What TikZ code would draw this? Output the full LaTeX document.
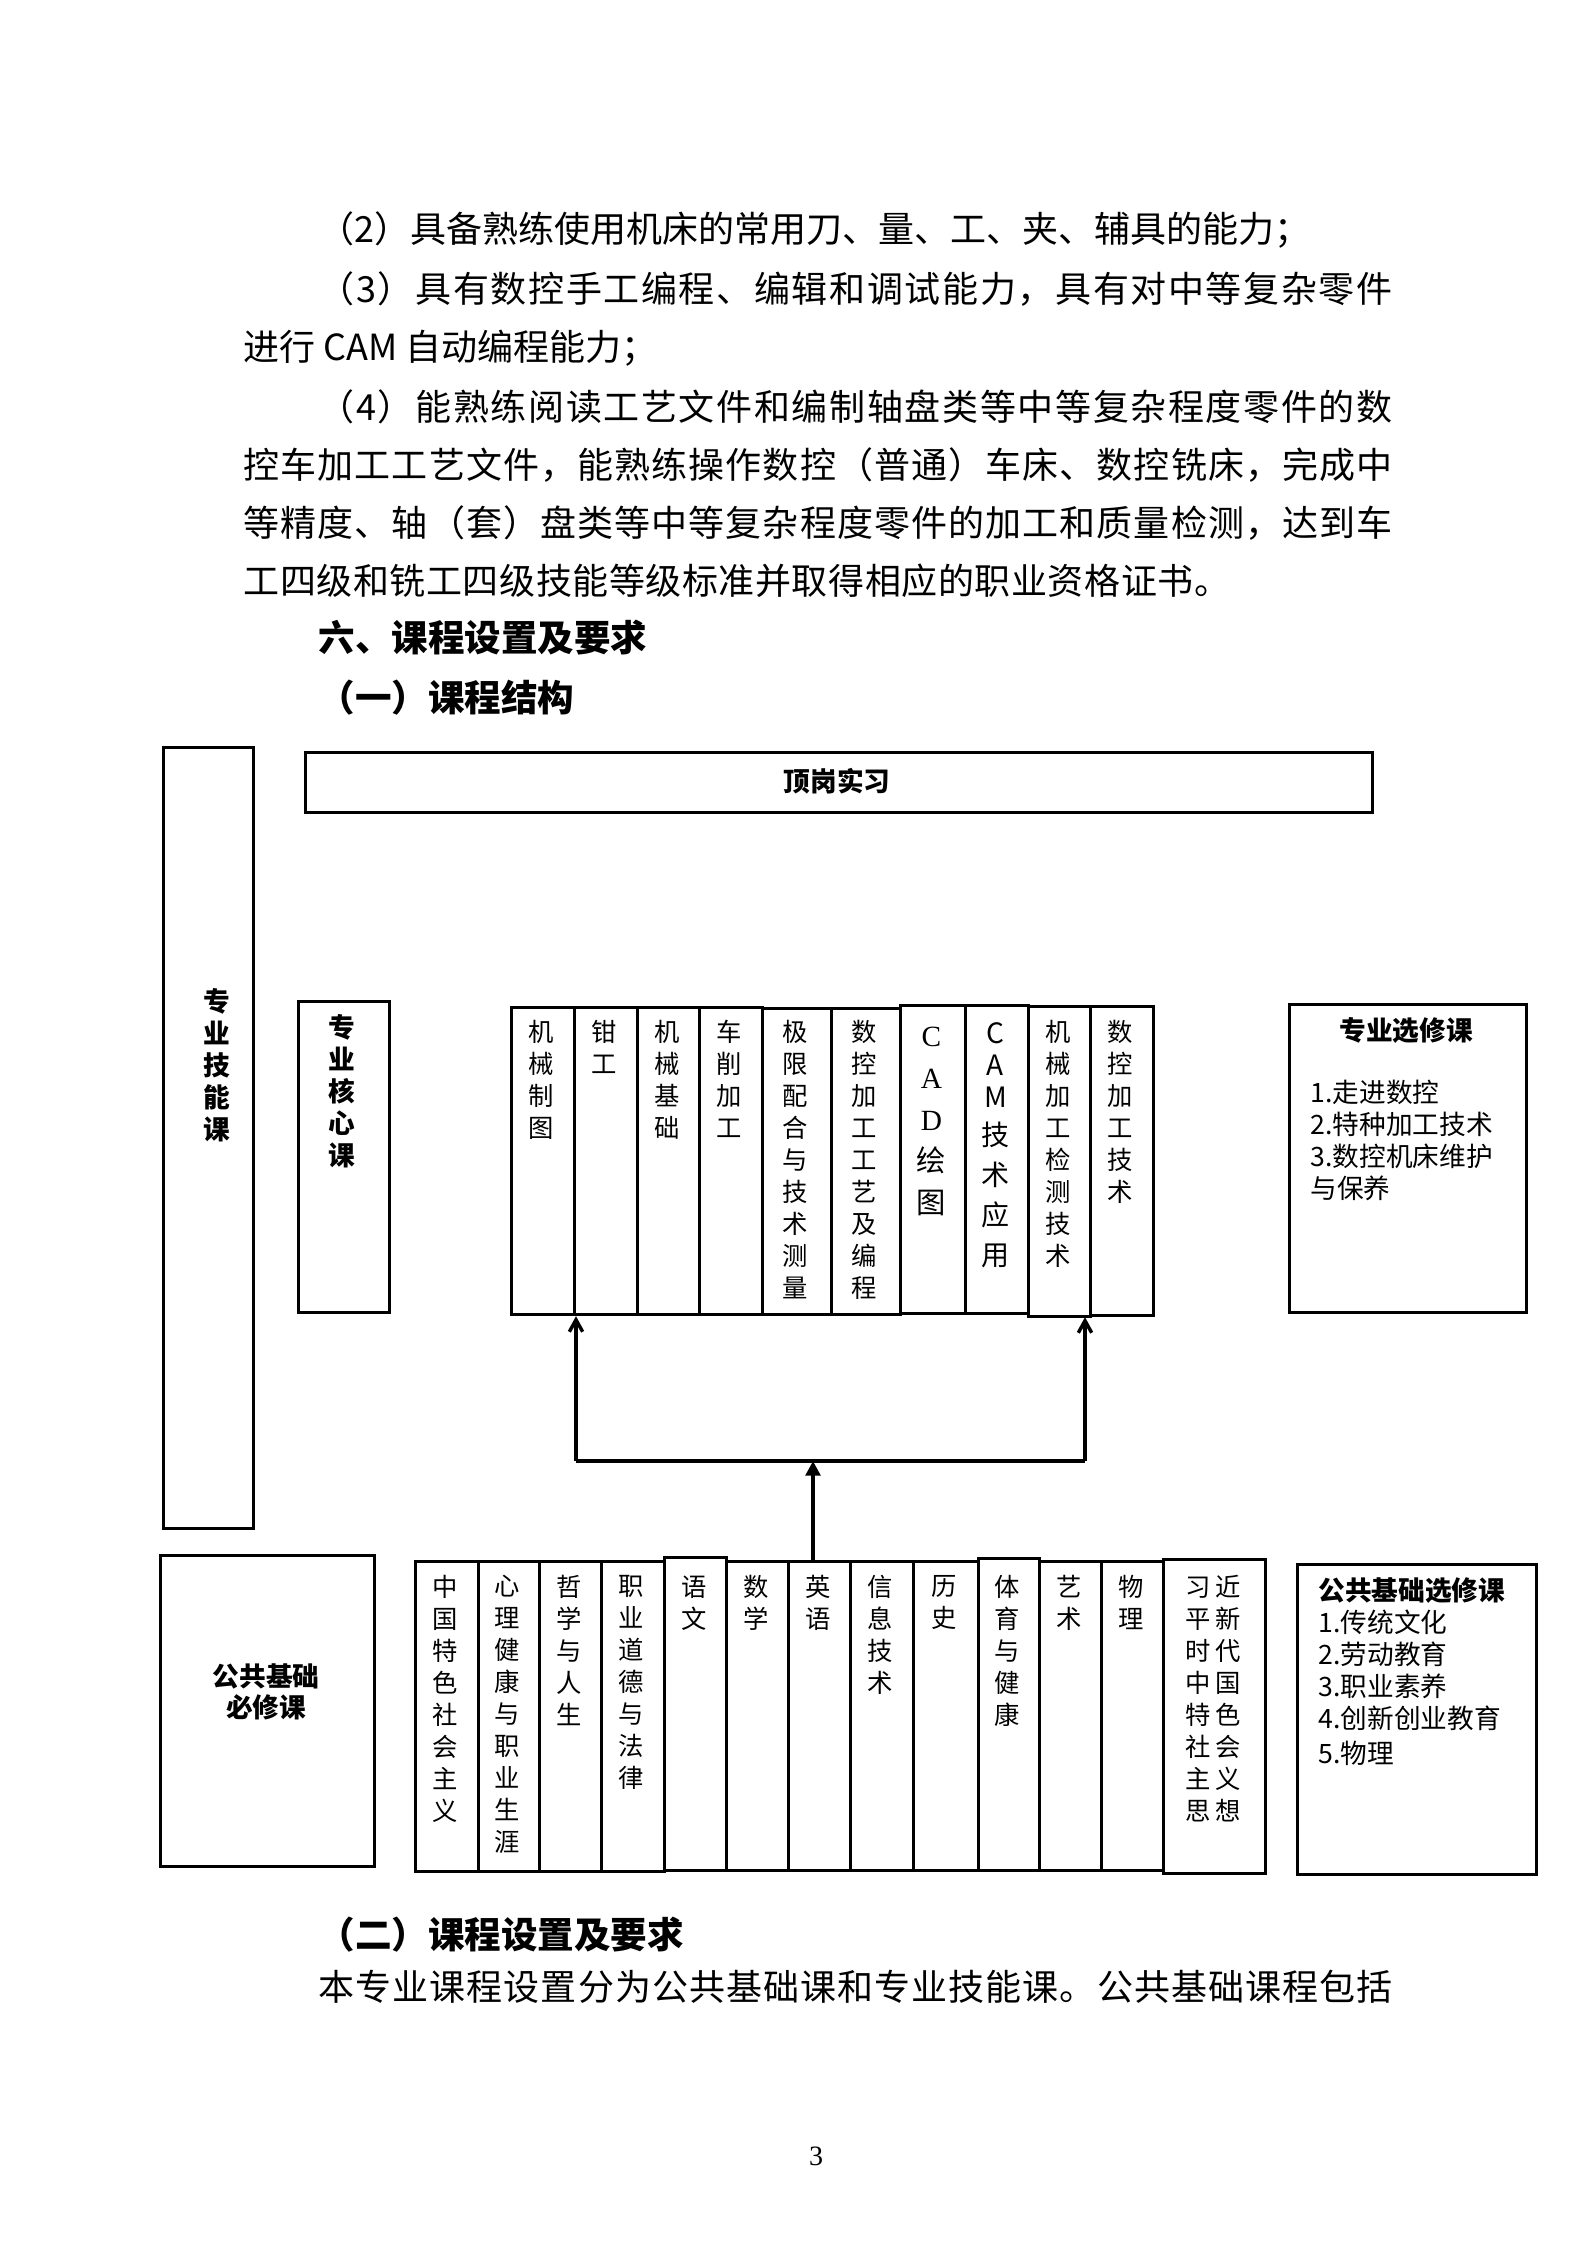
\documentclass[tikz,border=0pt]{standalone}
\usepackage{fontspec}
\setmainfont{Noto Sans CJK SC}
\newfontfamily\serifl{Liberation Serif}
\usetikzlibrary{arrows.meta}
\ExplSyntaxOn
\NewDocumentCommand\jline{mm}{\makebox[#1][s]{\tl_map_inline:nn{#2}{##1\hfil}\unskip}}
\ExplSyntaxOff
\newcommand\drawbox[6][]{\node[boxs,#1,anchor=north west,minimum width={(#4-#2)*0.375},minimum height={(#5-#3)*0.375}] (#6) at (#2,#3) {};}
\begin{document}
\begin{tikzpicture}[x=0.375pt,y=-0.375pt,
  boxs/.style={draw, line width=1.2pt, inner sep=0pt},
  body/.style={inner sep=0pt, anchor=west, font=\fontsize{13.5}{16}\selectfont},
  head/.style={inner sep=0pt, anchor=west, font=\fontsize{13.7}{16}\selectfont\bfseries},
  ct/.style={inner sep=0pt, anchor=north, align=center, font=\fontsize{9.5}{12}\selectfont},
  lbl/.style={inner sep=0pt, align=center, font=\fontsize{10}{12}\selectfont\bfseries},
  lst/.style={inner sep=0pt, anchor=north west, align=left, font=\fontsize{10}{12}\selectfont},
  conn/.style={line width=1.3pt},
]
\useasboundingbox (0,0) rectangle (1587,2245);
\fill[white] (0,0) rectangle (1587,2245);

% ---- body text ----
\node[body] (l1) at (318,230) {（2）具备熟练使用机床的常用刀、量、工、夹、辅具的能力；};
\node[body] (l2) at (318,289) {\jline{402.75pt}{（3）具有数控手工编程、编辑和调试能力，具有对中等复杂零件}};
\node[body] (l3) at (243,348) {进行 CAM 自动编程能力；};
\node[body] (l4) at (318,407) {\jline{402.75pt}{（4）能熟练阅读工艺文件和编制轴盘类等中等复杂程度零件的数}};
\node[body] (l5) at (243,465) {\jline{430.875pt}{控车加工工艺文件，能熟练操作数控（普通）车床、数控铣床，完成中}};
\node[body] (l6) at (243,523) {\jline{430.875pt}{等精度、轴（套）盘类等中等复杂程度零件的加工和质量检测，达到车}};
\node[body] (l7) at (243,581) {\jline{370pt}{工四级和铣工四级技能等级标准并取得相应的职业资格证书。}};
\node[head] (h1) at (318,638) {六、课程设置及要求};
\node[head] (h2) at (318,698) {（一）课程结构};
\node[head] (h3) at (318,1935) {（二）课程设置及要求};
\node[body] (l8) at (318,1987) {\jline{402.75pt}{本专业课程设置分为公共基础课和专业技能课。公共基础课程包括}};
\node[inner sep=0pt, font=\serifl\fontsize{10.5}{12}\selectfont] (pg) at (816,2156) {3};

% ---- left frames ----
\drawbox{162}{746}{252}{1527}{skill}
\node[lbl] (skillt) at (217,1065) {专\\业\\技\\能\\课};
\drawbox{304}{751}{1371}{811}{intern}
\node[lbl] (internt) at (837,781) {顶岗实习};
\drawbox{297}{1000}{388}{1311}{core}
\node[lbl] (coret) at (342,1091) {专\\业\\核\\心\\课};

% ---- core course columns ----
\drawbox{510}{1006}{573}{1313}{c1}
\drawbox{573}{1006}{636}{1313}{c2}
\drawbox{636}{1006}{698}{1313}{c3}
\drawbox{698}{1006}{761}{1313}{c4}
\drawbox{761}{1007}{830}{1313}{c5}
\drawbox{830}{1007}{899}{1313}{c6}
\drawbox{899}{1004}{964}{1312}{c7}
\drawbox{964}{1004}{1027}{1312}{c8}
\drawbox{1027}{1005}{1089}{1315}{c9}
\drawbox{1089}{1005}{1152}{1314}{c10}
\node[ct] (tc1) at (541.5,1020) {机\\械\\制\\图};
\node[ct] (tc2) at (604.5,1020) {钳\\工};
\node[ct] (tc3) at (667,1020) {机\\械\\基\\础};
\node[ct] (tc4) at (729.5,1020) {车\\削\\加\\工};
\node[ct] (tc5) at (795.5,1020) {极\\限\\配\\合\\与\\技\\术\\测\\量};
\node[ct] (tc6) at (864.5,1020) {数\\控\\加\\工\\工\\艺\\及\\编\\程};
\node[ct, font=\fontsize{11}{15.6}\selectfont] (tc7) at (931.5,1027) {{\serifl C}\\{\serifl A}\\{\serifl D}\\绘\\图};
\node[ct, font=\fontsize{10.5}{15}\selectfont] (tc8) at (995.5,1022) {C\\[-3pt]A\\[-3pt]M\\[-0.6pt]技\\术\\应\\用};
\node[ct] (tc9) at (1058,1020) {机\\械\\加\\工\\检\\测\\技\\术};
\node[ct] (tc10) at (1120.5,1020) {数\\控\\加\\工\\技\\术};

% ---- professional electives ----
\drawbox{1288}{1003}{1525}{1311}{pel}
\node[lbl] (pelt) at (1406,1030) {专业选修课};
\node[lst] (pell) at (1310,1080) {1.走进数控\\2.特种加工技术\\3.数控机床维护\\与保养};

% ---- public basic compulsory ----
\drawbox{159}{1554}{373}{1865}{pub}
\node[lbl, font=\fontsize{10}{11.6}\selectfont\bfseries] (pubt) at (266,1692) {公共基础\\必修课};

\drawbox{414}{1560}{477}{1870}{b1}
\drawbox{477}{1560}{538}{1870}{b2}
\drawbox{538}{1560}{600}{1870}{b3}
\drawbox{600}{1560}{663}{1870}{b4}
\drawbox{663}{1556}{725}{1869}{b5}
\drawbox{725}{1560}{787}{1869}{b6}
\drawbox{787}{1560}{849}{1869}{b7}
\drawbox{849}{1560}{912}{1869}{b8}
\drawbox{912}{1560}{977}{1869}{b9}
\drawbox{977}{1557}{1038}{1869}{b10}
\drawbox{1038}{1560}{1100}{1869}{b11}
\drawbox{1100}{1560}{1162}{1869}{b12}
\drawbox{1162}{1558}{1264}{1872}{b13}
\node[ct] (tb1) at (445.5,1575) {中\\国\\特\\色\\社\\会\\主\\义};
\node[ct] (tb2) at (507.5,1575) {心\\理\\健\\康\\与\\职\\业\\生\\涯};
\node[ct] (tb3) at (569,1575) {哲\\学\\与\\人\\生};
\node[ct] (tb4) at (631.5,1575) {职\\业\\道\\德\\与\\法\\律};
\node[ct] (tb5) at (694,1575) {语\\文};
\node[ct] (tb6) at (756,1575) {数\\学};
\node[ct] (tb7) at (818,1575) {英\\语};
\node[ct] (tb8) at (880.5,1575) {信\\息\\技\\术};
\node[ct] (tb9) at (944.5,1575) {历\\史};
\node[ct] (tb10) at (1007.5,1575) {体\\育\\与\\健\\康};
\node[ct] (tb11) at (1069,1575) {艺\\术};
\node[ct] (tb12) at (1131,1575) {物\\理};
\node[ct] (tb13) at (1213,1575) {习\hspace{1.8pt}近\\平\hspace{1.8pt}新\\时\hspace{1.8pt}代\\中\hspace{1.8pt}国\\特\hspace{1.8pt}色\\社\hspace{1.8pt}会\\主\hspace{1.8pt}义\\思\hspace{1.8pt}想};

% ---- public basic electives ----
\drawbox{1296}{1563}{1535}{1873}{pubel}
\node[lst] (pubelt) at (1318,1577) {\textbf{公共基础选修课}\\1.传统文化\\2.劳动教育\\3.职业素养\\4.创新创业教育\\[1.3pt]5.物理};

% ---- connectors ----
\coordinate (hl) at (576,1461);
\coordinate (hr) at (1085,1461);
\coordinate (hm) at (813,1461);
\draw[conn] (hl) -- (hr);
\draw[conn, -{Straight Barb[length=4.5pt,width=5pt]}] (hl) -- (hl |- c2.south);
\draw[conn, -{Straight Barb[length=4.5pt,width=5pt]}] (hr) -- (hr |- c10.south);
\draw[conn, -{Triangle[length=5.5pt,width=5.5pt]}] (b7.north -| hm) -- (hm);
\end{tikzpicture}
\end{document}
